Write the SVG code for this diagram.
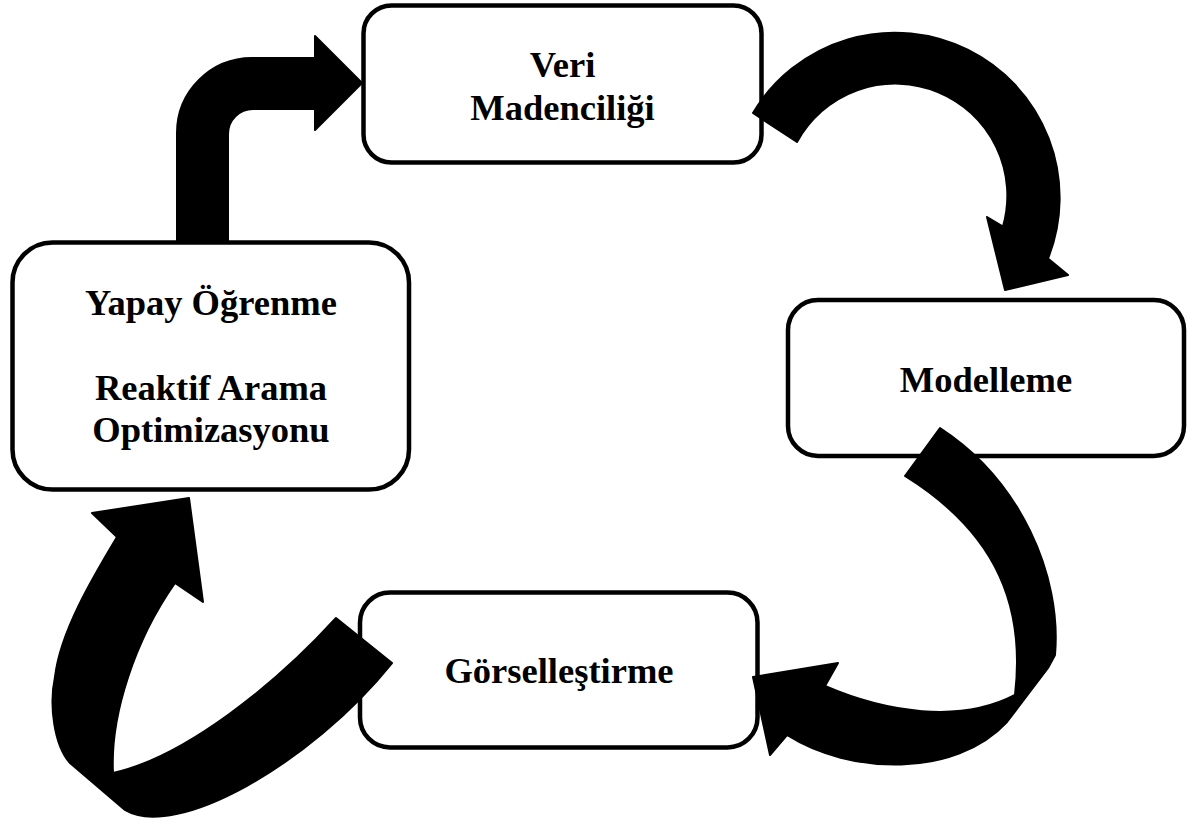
<svg xmlns="http://www.w3.org/2000/svg" width="1196" height="825" viewBox="0 0 1196 825">
  <style>
    .box { fill: #ffffff; stroke: #000000; stroke-width: 4.5; }
    .label { font-family: "Liberation Serif", "Times New Roman", serif; font-weight: bold; font-size: 36.5px; fill: #000000; text-anchor: middle; }
    .arrow { fill: #000000; stroke: #000000; stroke-width: 2; stroke-linejoin: round; }
  </style>
  <rect width="1196" height="825" fill="#ffffff"/>

  <!-- process steps -->
  <g id="node-veri-madenciligi">
    <rect class="box" x="363.5" y="5.5" width="398" height="157" rx="28" ry="28"/>
    <text class="label" x="562.5" y="77">Veri</text>
    <text class="label" x="562.5" y="120">Madenciliği</text>
  </g>
  <g id="node-modelleme">
    <rect class="box" x="788" y="300" width="396" height="156" rx="30" ry="30"/>
    <text class="label" x="986" y="392">Modelleme</text>
  </g>
  <g id="node-gorsellestirme">
    <rect class="box" x="360" y="592.5" width="397.5" height="155" rx="30" ry="30"/>
    <text class="label" x="559" y="683">Görselleştirme</text>
  </g>
  <g id="node-yapay-ogrenme">
    <rect class="box" x="12.5" y="242.5" width="396.5" height="247" rx="40" ry="40"/>
    <text class="label" x="211" y="315">Yapay Öğrenme</text>
    <text class="label" x="211" y="400">Reaktif Arama</text>
    <text class="label" x="211" y="442">Optimizasyonu</text>
  </g>

  <!-- block arrows between the steps -->
  <g id="connectors">
    <!-- bent-up arrow: Yapay Öğrenme to Veri Madenciliği -->
    <path class="arrow" d="M177,242 L177,133 A75,75 0 0 1 252,58 L315,58 L315,36 L362,83 L315,130 L315,109 L253,109 A25,25 0 0 0 228,134 L228,242 Z"/>
    <!-- curved arrow: Veri Madenciliği to Modelleme -->
    <path class="arrow" d="M753,113 A165,165 0 0 1 1048,258.5 L1068,275 L1005,290 L987,217 L1003,226.5 A112,112 0 0 0 797,142 Z"/>
    <!-- twisted curved arrow: Modelleme to Görselleştirme -->
    <path class="arrow" d="M940,428 C1020,480 1062,575 1055,655 L1048,668 L1007,722 C955,778 850,775 787,735 L770,755 L753,677 L838,663 L825,686 C885,712 960,724 1015,695 C1025,610 1000,535 905,476 Z"/>
    <!-- twisted curved arrow: Görselleştirme to Yapay Öğrenme -->
    <path class="arrow" d="M336,618 C276,684 185,757 113,773 C110,715 135,640 175,583 L203,602 L189,498 L92,513 L117,537 C93,577 60,632 55,677 C49,705 54,745 70,763 L125,810 C175,840 310,765 392,663 Z"/>
  </g>
</svg>
